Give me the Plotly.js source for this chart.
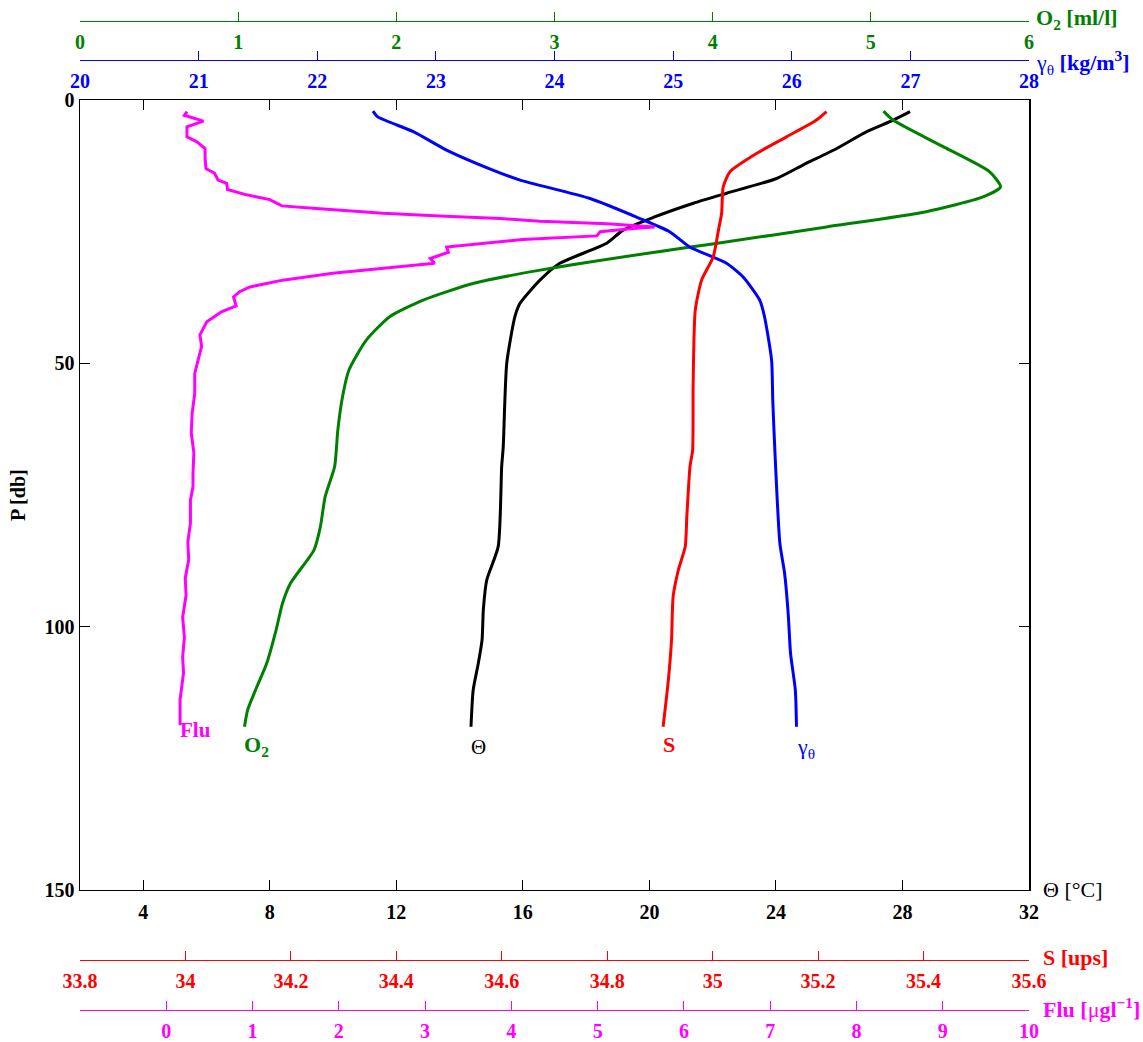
<!DOCTYPE html>
<html>
<head>
<meta charset="utf-8">
<script src="https://cdn.plot.ly/plotly-3.0.1.min.js"></script>
<style>html,body{margin:0;padding:0;background:#fff;}#chart{width:1143px;height:1042px;}</style>
</head>
<body>
<div id="chart"></div>
<script>
const fluP = [2.2, 2.9, 4.0, 5.1, 7.0, 7.9, 9.2, 11.1, 13.0, 13.9, 15.2, 15.8, 17.0, 18.0, 18.9, 20.1, 20.6, 21.5, 22.0, 22.5, 23.0, 23.5, 24.1, 24.4, 25.0, 25.8, 26.5, 27.9, 28.9, 30.1, 31.0, 32.0, 32.9, 34.2, 35.5, 36.4, 37.4, 39.1, 40.2, 42.1, 44.6, 46.8, 51.9, 55.7, 59.5, 63.2, 67.0, 70.8, 73.4, 76.0, 80.3, 84.0, 87.3, 90.8, 94.0, 98.2, 102.0, 105.8, 108.8, 113.9, 118.7];
const fluVal = [0.24, 0.21, 0.43, 0.24, 0.24, 0.35, 0.45, 0.45, 0.46, 0.56, 0.60, 0.70, 0.71, 0.93, 1.20, 1.34, 1.74, 2.51, 3.17, 3.87, 4.33, 5.11, 5.66, 5.41, 5.03, 4.99, 4.13, 3.25, 3.27, 3.06, 3.11, 2.51, 1.93, 1.35, 0.97, 0.85, 0.78, 0.81, 0.64, 0.47, 0.39, 0.41, 0.33, 0.33, 0.30, 0.29, 0.32, 0.31, 0.31, 0.28, 0.28, 0.25, 0.26, 0.22, 0.23, 0.19, 0.21, 0.19, 0.20, 0.16, 0.16];

const o2P = [2.1, 3.8, 8.9, 13.6, 16.5, 18.4, 21.2, 24.1, 27.2, 27.9, 32.3, 34.8, 38.0, 41.1, 45.6, 51.3, 56.3, 62.7, 69.6, 75.3, 81.0, 85.4, 91.8, 95.6, 100.6, 107.0, 112.0, 115.8, 119.0];
const o2Val = [5.08, 5.14, 5.46, 5.75, 5.82, 5.71, 5.35, 4.72, 4.03, 3.86, 2.91, 2.49, 2.17, 1.96, 1.81, 1.70, 1.66, 1.63, 1.61, 1.55, 1.52, 1.48, 1.33, 1.28, 1.24, 1.18, 1.11, 1.06, 1.04];

const thetaP = [2.2, 3.8, 6.0, 9.2, 12.3, 14.9, 17.7, 19.6, 22.3, 24.7, 27.2, 31.0, 34.2, 38.6, 41.1, 50.0, 65.8, 69.6, 84.8, 91.1, 96.8, 102.5, 107.0, 112.0, 119.0];
const thetaVal = [28.24, 27.71, 26.87, 25.92, 24.87, 24.02, 22.44, 21.39, 20.12, 19.17, 18.65, 17.17, 16.54, 15.91, 15.75, 15.49, 15.38, 15.33, 15.22, 14.86, 14.75, 14.71, 14.59, 14.43, 14.36];

const salP = [2.2, 3.8, 7.0, 10.1, 13.6, 16.5, 21.5, 24.7, 29.8, 34.2, 39.9, 53.8, 66.5, 69.6, 79.1, 84.8, 89.2, 94.3, 102.5, 110.1, 119.0];
const salVal = [35.216, 35.197, 35.140, 35.084, 35.033, 35.020, 35.017, 35.011, 35.001, 34.979, 34.967, 34.963, 34.962, 34.957, 34.951, 34.948, 34.935, 34.925, 34.922, 34.916, 34.906];

const gammaP = [2.1, 3.2, 6.0, 9.5, 13.3, 15.2, 18.7, 22.5, 25.0, 27.9, 31.0, 33.6, 38.0, 41.1, 49.4, 57.0, 67.7, 84.2, 89.9, 97.5, 105.1, 112.0, 119.0];
const gammaVal = [22.47, 22.51, 22.81, 23.09, 23.48, 23.71, 24.30, 24.72, 24.97, 25.14, 25.45, 25.59, 25.73, 25.77, 25.83, 25.84, 25.86, 25.90, 25.94, 25.97, 25.99, 26.03, 26.04];

// Axis ranges and ticks
const thetaRange = [2, 32];
const pRange = [150, 0];
const o2Range = [0, 6];
const gammaRange = [20, 28];
const salRange = [33.8, 35.6];
const fluRange = [-1, 10];
const fluTickVals = [-1, 0, 1, 2, 3, 4, 5, 6, 7, 8, 9, 10];
const fluTickText = ['', '0', '1', '2', '3', '4', '5', '6', '7', '8', '9', '10'];

const FONT = 'Liberation Serif, Times New Roman, serif';
const GREEN = '#008000', BLUE = '#0000ff', RED = '#ff0000', MAG = '#ff00ff';
const TICKSIZE = 20, LABSIZE = 21;

function tr(xs, ys, axis, color, smooth) {
  return {x: xs, y: ys, xaxis: axis, yaxis: 'y', type: 'scatter', mode: 'lines',
    line: {color: color, width: 3, shape: smooth ? 'spline' : 'linear', smoothing: 0.6},
    hoverinfo: 'skip'};
}
const data = [
  tr(o2Val, o2P, 'x2', GREEN, true),
  tr(thetaVal, thetaP, 'x', 'black', true),
  tr(salVal, salP, 'x4', RED, true),
  tr(gammaVal, gammaP, 'x3', BLUE, true),
  tr(fluVal, fluP, 'x5', MAG, false)
];

const plotTop = 0.904, plotBot = 0.1459;
function freeAxis(range, pos, color, extra) {
  return Object.assign({
    overlaying: 'x', anchor: 'free', position: pos, side: 'bottom',
    range: range, ticks: 'inside', ticklen: 9, tickwidth: 1, tickcolor: color,
    showline: true, linecolor: color, linewidth: 1.2, showgrid: false, zeroline: false,
    automargin: false, fixedrange: true, ticklabelstandoff: 3,
    tickfont: {family: FONT, size: TICKSIZE, color: color, weight: 'bold'}
  }, extra);
}

const lastIdx = a => a.length - 1;
const ann = [];
// curve labels at bottom end of each profile
ann.push({xref: 'x5', yref: 'y', x: fluVal[lastIdx(fluVal)], y: fluP[lastIdx(fluP)], text: '<b>Flu</b>', showarrow: false, xanchor: 'left', yanchor: 'top', yshift: 9, xshift: -2, font: {family: FONT, size: LABSIZE, color: MAG}});
ann.push({xref: 'x2', yref: 'y', x: o2Val[lastIdx(o2Val)], y: o2P[lastIdx(o2P)], text: '<b>O<sub>2</sub></b>', showarrow: false, xanchor: 'left', yanchor: 'top', yshift: -3, xshift: -2, font: {family: FONT, size: 22, color: GREEN}});
ann.push({xref: 'x', yref: 'y', x: thetaVal[lastIdx(thetaVal)], y: thetaP[lastIdx(thetaP)], text: 'Θ', showarrow: false, xanchor: 'left', yanchor: 'top', yshift: -6, xshift: -2, font: {family: FONT, size: LABSIZE, color: 'black'}});
ann.push({xref: 'x4', yref: 'y', x: salVal[lastIdx(salVal)], y: salP[lastIdx(salP)], text: '<b>S</b>', showarrow: false, xanchor: 'left', yanchor: 'top', yshift: -3, xshift: -2, font: {family: FONT, size: 22, color: RED}});
ann.push({xref: 'x3', yref: 'y', x: gammaVal[lastIdx(gammaVal)], y: gammaP[lastIdx(gammaP)], text: 'γ<sub>θ</sub>', showarrow: false, xanchor: 'left', yanchor: 'top', yshift: -5, xshift: -1, font: {family: FONT, size: 22, color: BLUE}});
// axis titles at right end of each axis
ann.push({xref: 'paper', yref: 'paper', x: 1, y: 0.9798, xshift: 5, yshift: 2, text: '<b>O<sub>2</sub> [ml/l]</b>', showarrow: false, xanchor: 'left', yanchor: 'middle', font: {family: FONT, size: 22, color: GREEN}});
ann.push({xref: 'paper', yref: 'paper', x: 1, y: 0.9424, xshift: 5, yshift: -2, text: 'γ<sub>θ</sub> <b>[kg/m<sup>3</sup>]</b>', showarrow: false, xanchor: 'left', yanchor: 'middle', font: {family: FONT, size: 22, color: BLUE}});
ann.push({xref: 'paper', yref: 'paper', x: 1, y: plotBot, xshift: 12, yshift: 0, text: 'Θ [°C]', showarrow: false, xanchor: 'left', yanchor: 'middle', font: {family: FONT, size: 22, color: 'black'}});
ann.push({xref: 'paper', yref: 'paper', x: 1, y: 0.0787, xshift: 12, yshift: 2, text: '<b>S [ups]</b>', showarrow: false, xanchor: 'left', yanchor: 'middle', font: {family: FONT, size: 22, color: RED}});
ann.push({xref: 'paper', yref: 'paper', x: 1, y: 0.0307, xshift: 12, yshift: 2, text: '<b>Flu [</b>μ<b>gl<sup>−1</sup>]</b>', showarrow: false, xanchor: 'left', yanchor: 'middle', font: {family: FONT, size: 22, color: MAG}});
// y axis title
ann.push({xref: 'paper', yref: 'paper', x: 0, y: (plotTop + plotBot) / 2, xshift: -62, text: '<b>P [db]</b>', textangle: -90, showarrow: false, xanchor: 'center', yanchor: 'middle', font: {family: FONT, size: 20, color: 'black'}});

const layout = {
  width: 1143, height: 1042,
  margin: {l: 80, r: 114, t: 0, b: 0, pad: 0},
  paper_bgcolor: 'white', plot_bgcolor: 'white',
  font: {family: FONT, size: TICKSIZE, color: 'black'},
  showlegend: false,
  xaxis: {
    domain: [0, 1], anchor: 'y', range: thetaRange, tick0: 0, dtick: 4,
    ticks: 'inside', ticklen: 10, tickwidth: 1, tickcolor: 'black', mirror: 'ticks',
    showline: true, linecolor: 'black', linewidth: 1.5, showgrid: false, zeroline: false,
    automargin: false, fixedrange: true, ticklabelstandoff: 4,
    tickfont: {family: FONT, size: TICKSIZE, color: 'black', weight: 'bold'}
  },
  yaxis: {
    domain: [plotBot, plotTop], anchor: 'x', range: pRange, tick0: 0, dtick: 50,
    ticks: 'inside', ticklen: 10, tickwidth: 1, tickcolor: 'black', mirror: 'ticks',
    showline: true, linecolor: 'black', linewidth: 1.5, showgrid: false, zeroline: false,
    automargin: false, fixedrange: true,
    tickfont: {family: FONT, size: TICKSIZE, color: 'black', weight: 'bold'}
  },
  xaxis2: freeAxis(o2Range, 0.9798, GREEN, {tick0: 0, dtick: 1}),
  xaxis3: freeAxis(gammaRange, 0.9424, BLUE, {tick0: 20, dtick: 1}),
  xaxis4: freeAxis(salRange, 0.0787, RED, {tick0: 33.8, dtick: 0.2}),
  xaxis5: freeAxis(fluRange, 0.0307, MAG, {tickmode: 'array', tickvals: fluTickVals, ticktext: fluTickText}),
  annotations: ann
};

Plotly.newPlot('chart', data, layout, {staticPlot: true, displayModeBar: false});
</script>
</body>
</html>
